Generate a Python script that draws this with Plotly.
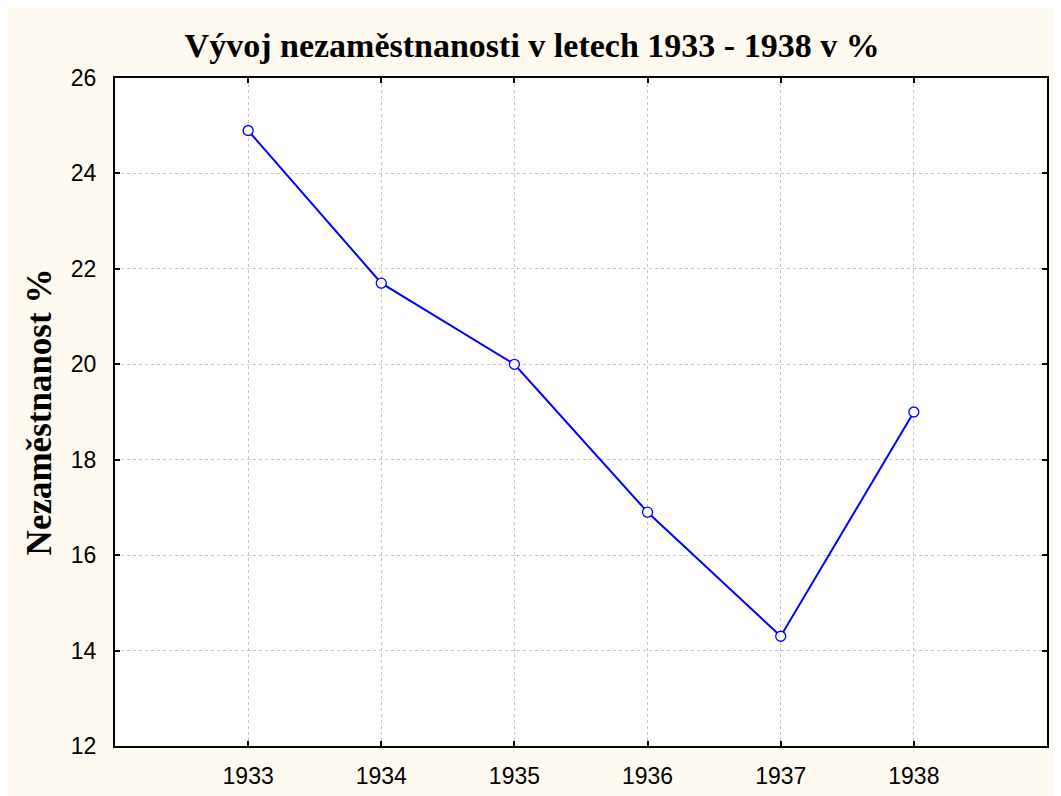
import plotly.graph_objects as go

years = [1933, 1934, 1935, 1936, 1937, 1938]
unemployment = [24.9, 21.7, 20.0, 16.9, 14.3, 19.0]
y_ticks = [12, 14, 16, 18, 20, 22, 24, 26]

fig = go.Figure()
fig.add_trace(go.Scatter(
    x=years, y=unemployment, mode="lines+markers",
    line=dict(color="#0000FF", width=2),
    marker=dict(symbol="circle", size=10, color="white",
                line=dict(color="#0000FF", width=1.3)),
    showlegend=False,
))

fig.update_layout(
    width=1061, height=796,
    paper_bgcolor="#FFFAF0",
    plot_bgcolor="white",
    margin=dict(l=107, r=22, t=70, b=58),
    title=dict(text="Vývoj nezaměstnanosti v letech 1933 - 1938 v %",
               x=0.494, xanchor="center", y=0.953, yanchor="middle",
               font=dict(family="Liberation Serif", size=34, color="black", weight="bold")),
)
fig.update_xaxes(
    range=[1932, 1939], tickvals=years, ticktext=[str(y) for y in years],
    ticks="inside", ticklen=5, tickcolor="black", tickwidth=2,
    showgrid=True, gridcolor="#C4C4C4", griddash="3px,3px", gridwidth=1,
    showline=True, linecolor="black", linewidth=2, mirror="ticks",
    zeroline=False, ticklabelstandoff=8,
    tickfont=dict(family="Liberation Sans", size=23, color="black"),
)
fig.update_yaxes(
    range=[12, 26], tickvals=y_ticks,
    ticks="inside", ticklen=5, tickcolor="black", tickwidth=2,
    showgrid=True, gridcolor="#C4C4C4", griddash="3px,3px", gridwidth=1,
    showline=True, linecolor="black", linewidth=2, mirror="ticks",
    zeroline=False, ticklabelstandoff=12,
    tickfont=dict(family="Liberation Sans", size=23, color="black"),
    title=dict(text="Nezaměstnanost %", standoff=9,
               font=dict(family="Liberation Serif", size=35, color="black", weight="bold")),
)

fig.write_html("out.html")
